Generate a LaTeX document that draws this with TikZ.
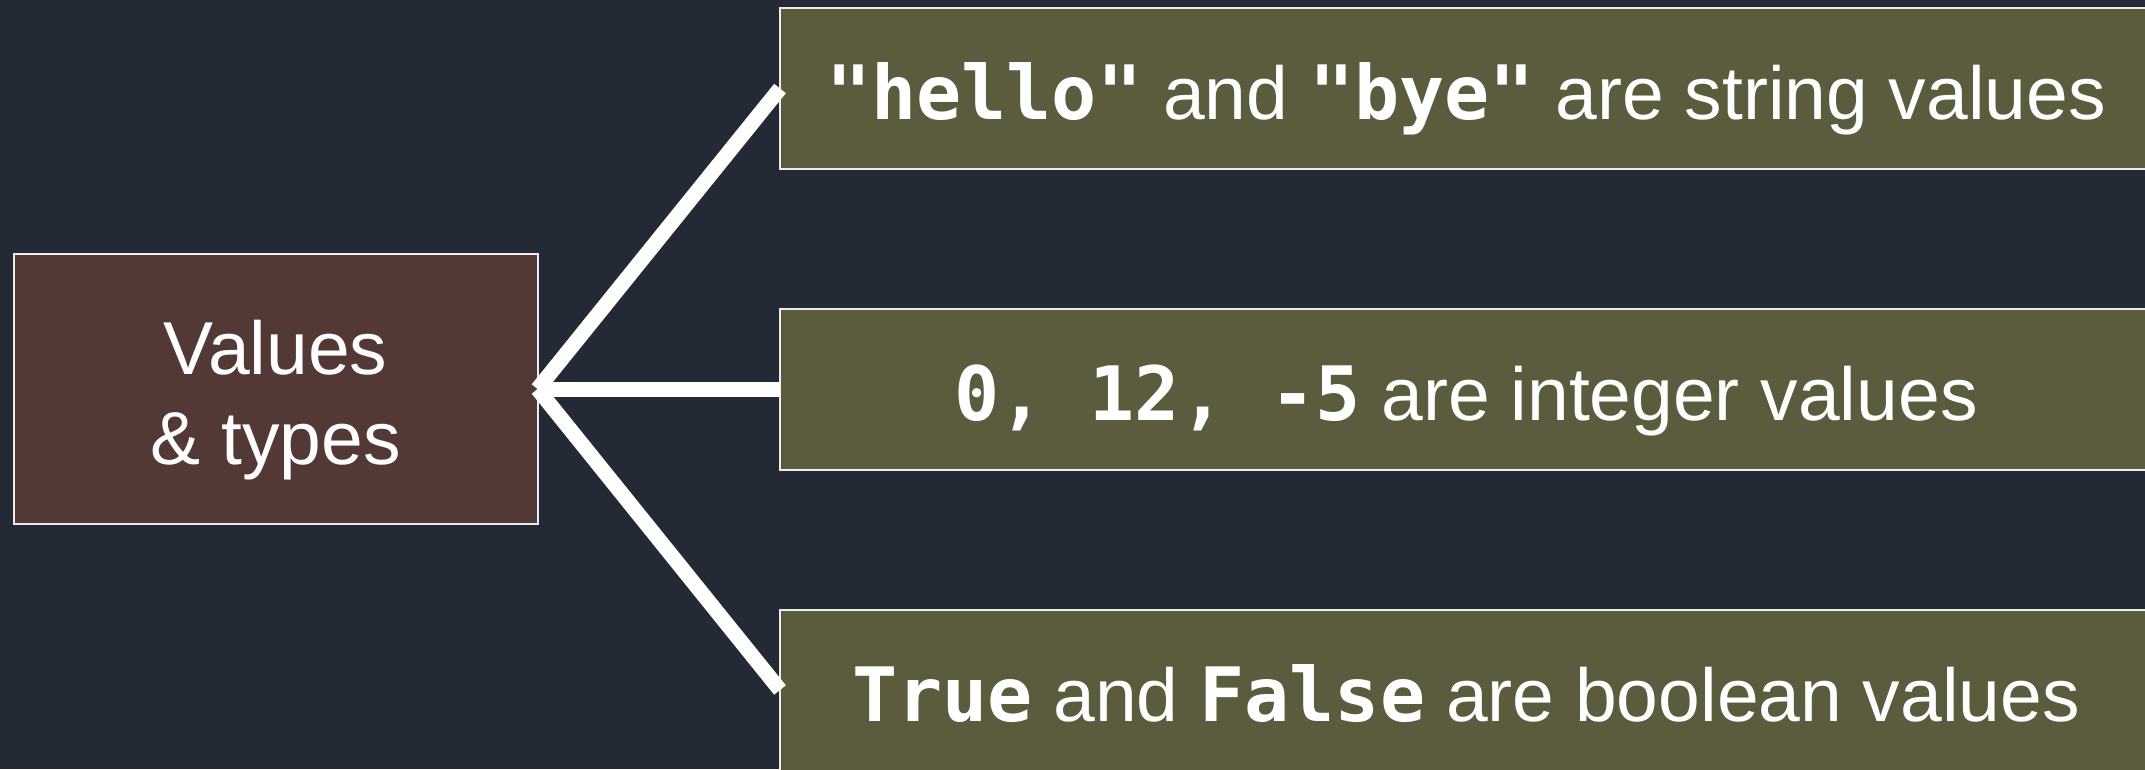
\documentclass[tikz,border=0pt]{standalone}
\usepackage{fontspec}
\setmainfont{Liberation Sans}
\newfontfamily\codefont{DejaVu Sans Mono}
\definecolor{canvas}{RGB}{35,42,54}
\definecolor{rootfill}{RGB}{83,57,54}
\definecolor{leaffill}{RGB}{90,92,61}
\definecolor{edgeline}{RGB}{236,236,236}
\newcommand{\code}[1]{{\codefont\bfseries #1}}

\begin{document}
\begin{tikzpicture}[x=1pt,y=-1pt,
  box/.style={draw=edgeline, line width=2pt, rectangle, inner sep=0pt, outer sep=0pt},
  rootbox/.style={box, fill=rootfill, minimum width=524pt, minimum height=270pt},
  leafbox/.style={box, fill=leaffill, minimum width=1372pt, minimum height=161pt,
    text height=62pt, text depth=0pt, text=white, font=\fontsize{75}{90}\selectfont},
  rootlabel/.style={text=white, anchor=base, inner sep=0pt, font=\fontsize{75}{90}\selectfont},
  conn/.style={draw=white, line width=15pt}]

  % canvas
  \useasboundingbox (0,0) rectangle (2145,769);
  \fill[canvas] (0,0) rectangle (2145,769);
  \clip (0,0) rectangle (2145,769);

  % root concept
  \node[rootbox] (vt) at (275.6,389) {};
  \node[rootlabel] (vt1) at (275.6,374) {Values};
  \node[rootlabel] (vt2) at (275.6,464) {\& types};

  % the three kinds of values
  \node[leafbox] (str) at (1466,88.5) {\code{"hello"} and \code{"bye"} are string values};
  \node[leafbox] (int) at (1466,389) {\code{0, 12, -5} are integer values};
  \node[leafbox] (bool) at (1466,690) {\code{True} and \code{False} are boolean values};

  % connectors
  \draw[conn] (vt.east) -- (str.west);
  \draw[conn] (vt.east) -- (int.west);
  \draw[conn] (vt.east) -- (bool.west);
\end{tikzpicture}
\end{document}
